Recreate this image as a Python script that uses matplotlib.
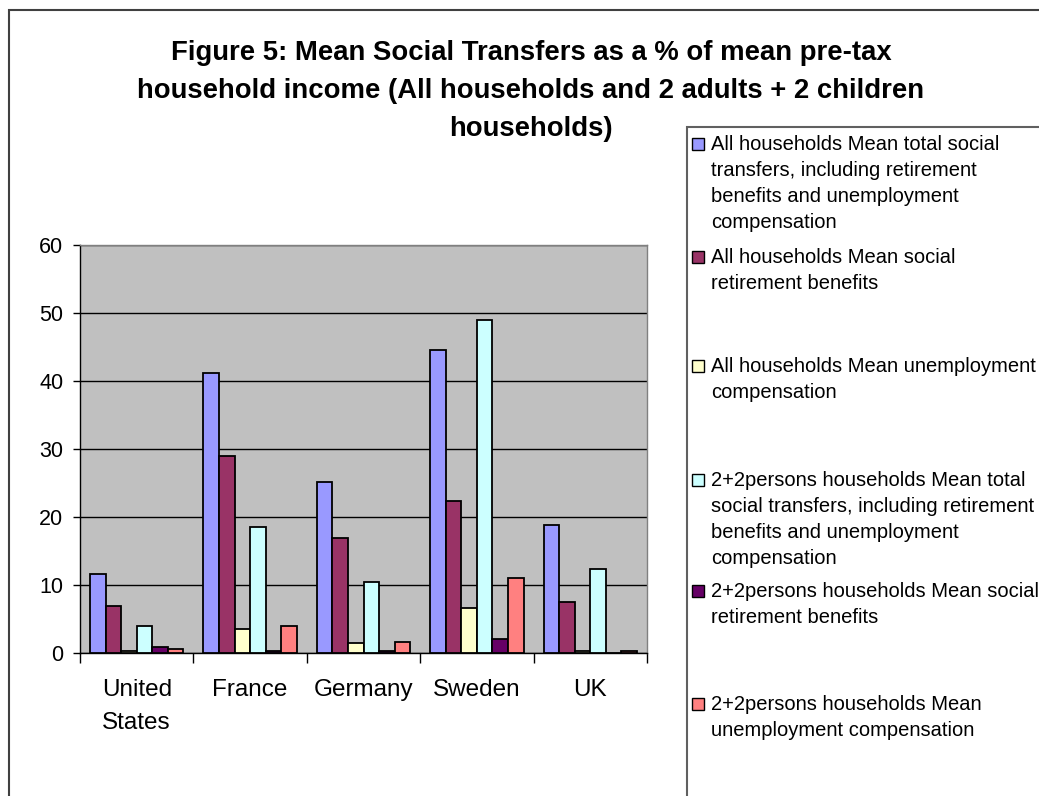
import numpy as np
import matplotlib
matplotlib.use("Agg")
import matplotlib.pyplot as plt
from matplotlib.patches import Rectangle

plt.rcParams['font.family'] = ['Liberation Sans', 'DejaVu Sans']

countries = ["United\nStates", "France", "Germany", "Sweden", "UK"]
series_names = [
    "All households Mean total social\ntransfers, including retirement\nbenefits and unemployment\ncompensation",
    "All households Mean social\nretirement benefits",
    "All households Mean unemployment\ncompensation",
    "2+2persons households Mean total\nsocial transfers, including retirement\nbenefits and unemployment\ncompensation",
    "2+2persons households Mean social\nretirement benefits",
    "2+2persons households Mean\nunemployment compensation",
]
all_total = [11.6, 41.2, 25.1, 44.5, 18.8]
all_retire = [6.9, 29.0, 16.9, 22.4, 7.5]
all_unemp = [0.3, 3.6, 1.4, 6.6, 0.3]
hh22_total = [3.9, 18.5, 10.5, 49.0, 12.4]
hh22_retire = [0.9, 0.3, 0.3, 2.0, 0.0]
hh22_unemp = [0.6, 3.9, 1.6, 11.1, 0.3]
series_values = [all_total, all_retire, all_unemp, hh22_total, hh22_retire, hh22_unemp]
colors = ["#9999FF", "#993366", "#FFFFCC", "#CCFFFF", "#660066", "#FF8080"]
yticks = [0, 10, 20, 30, 40, 50, 60]

title = ("Figure 5: Mean Social Transfers as a % of mean pre-tax\n"
         "household income (All households and 2 adults + 2 children\n"
         "households)")

W, H = 1039, 796
fig = plt.figure(figsize=(W / 100, H / 100), dpi=100)

def fx(px):
    return px / W

def fy(py):
    return 1 - py / H

# outer chart frame
fig.patches.append(Rectangle((fx(9), fy(1000)), fx(1100), fy(10) - fy(1000),
                             transform=fig.transFigure, fill=False,
                             edgecolor="#404040", linewidth=1.5))

left, right, top, bottom = 80, 647, 245, 653
ax = fig.add_axes([fx(left), fy(bottom), fx(right - left), fy(top) - fy(bottom)])
ax.set_facecolor("#C0C0C0")

n = len(series_values)
gap = 1.3
w = 1.0 / (n + gap)
x = np.arange(len(countries))
for i, (vals, c) in enumerate(zip(series_values, colors)):
    offs = -0.5 + gap * w / 2 + (i + 0.5) * w
    ax.bar(x + offs, vals, width=w, color=c, edgecolor="black", linewidth=1.3, zorder=3)

ax.set_xlim(-0.5, len(countries) - 0.5)
ax.set_ylim(0, 60)
ax.set_yticks(yticks)
ax.set_yticklabels([str(v) for v in yticks], fontsize=15.5)
ax.yaxis.grid(True, color="black", linewidth=1.0, zorder=0)
ax.set_axisbelow(True)
ax.set_xticks(np.arange(-0.5, len(countries), 1.0))
ax.set_xticklabels([])
ax.set_xticks(x, minor=True)
ax.set_xticklabels(countries, minor=True, fontsize=17.5, linespacing=1.6)
ax.tick_params(axis="x", which="minor", length=0, pad=19)
ax.tick_params(axis="x", which="major", length=7, width=1, direction="out")
ax.tick_params(axis="y", length=5, width=1, direction="out", pad=7)
for s in ["top", "right"]:
    ax.spines[s].set_color("#808080")
    ax.spines[s].set_linewidth(1.0)
for s in ["left", "bottom"]:
    ax.spines[s].set_color("black")
    ax.spines[s].set_linewidth(1.0)

ax.set_ylabel("Percentage", fontsize=15, fontweight="bold")
ax.yaxis.label.set_transform(fig.transFigure)
ax.yaxis.label.set_position((fx(28), fy(452)))
ax.yaxis.label.set_va("center")

fig.text(fx(531), fy(91), title, ha="center", va="center", fontsize=19.8,
         fontweight="bold", linespacing=1.6)

# legend box
fig.patches.append(Rectangle((fx(687), fy(1000)), fx(500), fy(127) - fy(1000),
                             transform=fig.transFigure, fill=False,
                             edgecolor="#606060", linewidth=1.5))
entry_y = [144, 257, 366, 480, 591, 704]
for name, c, ey in zip(series_names, colors, entry_y):
    fig.patches.append(Rectangle((fx(692), fy(ey + 6)), fx(12), fy(ey - 6) - fy(ey + 6),
                                 transform=fig.transFigure, facecolor=c,
                                 edgecolor="black", linewidth=1.0))
    fig.text(fx(711), fy(ey - 9), name, ha="left", va="top", fontsize=14.5,
             linespacing=1.46)

fig.savefig("out.png", dpi=100)
